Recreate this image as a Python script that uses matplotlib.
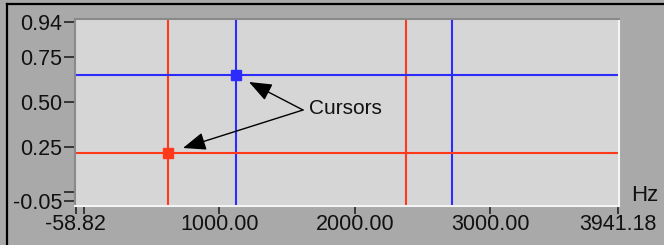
import matplotlib
matplotlib.use("Agg")
import matplotlib.pyplot as plt
from matplotlib.lines import Line2D

# axis ranges and ticks
x_ticks = [-58.82, 0, 1000, 2000, 3000, 3941.18]
x_labels = ["-58.82", "", "1000.00", "2000.00", "3000.00", "3941.18"]
y_ticks = [-0.05, 0, 0.25, 0.50, 0.75, 0.94]
y_labels = ["-0.05", "", "0.25", "0.50", "0.75", "0.94"]

# cursor positions
red_x = [620, 2380]
blue_x = [1120, 2720]
red_y = 0.22
blue_y = 0.65
red_point = (620, 0.22)
blue_point = (1120, 0.65)

RED = "#ff3a1c"
BLUE = "#2c2cff"
BG = "#a9a9a9"
PLOT_BG = "#d6d6d6"

tick_font = ["Liberation Sans Narrow", "Liberation Sans", "DejaVu Sans"]

fig = plt.figure(figsize=(6.64, 2.45), dpi=100, facecolor=BG)
ax = fig.add_axes([75 / 664, 39 / 245, 544 / 664, 187 / 245])
ax.set_facecolor(PLOT_BG)

ax.set_xlim(-64.5, 3948.5)
ax.set_ylim(-0.075, 0.957)

for x in red_x:
    ax.axvline(x, color=RED, lw=1.5)
for x in blue_x:
    ax.axvline(x, color=BLUE, lw=1.5)
ax.axhline(red_y, color=RED, lw=1.5)
ax.axhline(blue_y, color=BLUE, lw=1.5)

ax.plot(*red_point, marker="s", ms=7, color=RED, mec=RED)
ax.plot(*blue_point, marker="s", ms=7, color=BLUE, mec=BLUE)

ax.set_xticks(x_ticks)
ax.set_xticklabels(x_labels)
ax.set_yticks(y_ticks)
ax.set_yticklabels(y_labels)
ax.tick_params(axis="both", direction="out", color="#222222", width=1.2,
               labelsize=15.5, labelcolor="#111111")
ax.tick_params(axis="y", length=8, pad=1)
ax.tick_params(axis="x", length=6, pad=0)
for lbl in ax.get_xticklabels() + ax.get_yticklabels():
    lbl.set_family(tick_font)

ax.spines["top"].set_color("#8a8a8a")
ax.spines["left"].set_color("#8a8a8a")
ax.spines["bottom"].set_color("#f4f4f4")
ax.spines["right"].set_color("#f4f4f4")
for s in ax.spines.values():
    s.set_linewidth(1.5)

fig.text(645 / 664, 1 - 195 / 245, "Hz", ha="center", va="center",
         fontsize=16, family=tick_font, color="#111111")

# annotation
txt_xy = (309 / 664, 1 - 109 / 245)
fig.text(txt_xy[0], txt_xy[1], "Cursors", ha="left", va="center",
         fontsize=15, family=["Liberation Sans", "DejaVu Sans"], color="#111111")
arrow_kw = dict(arrowstyle="-|>,head_length=1.4,head_width=0.55", color="black",
                lw=1.0, shrinkA=0, shrinkB=0)
ax.annotate("", xy=(249 / 664, 1 - 82 / 245), xycoords="figure fraction",
            xytext=(303 / 664, 1 - 110 / 245), textcoords="figure fraction",
            arrowprops=arrow_kw)
ax.annotate("", xy=(183 / 664, 1 - 148 / 245), xycoords="figure fraction",
            xytext=(303 / 664, 1 - 110 / 245), textcoords="figure fraction",
            arrowprops=arrow_kw)

# outer frame (top and left edges)
fig.add_artist(Line2D([7 / 664, 7 / 664], [0, 1 - 4 / 245],
                      transform=fig.transFigure, color="black", lw=1.6))
fig.add_artist(Line2D([7 / 664, 1], [1 - 4 / 245, 1 - 4 / 245],
                      transform=fig.transFigure, color="black", lw=1.6))

fig.savefig("out.png", dpi=100, facecolor=BG)
